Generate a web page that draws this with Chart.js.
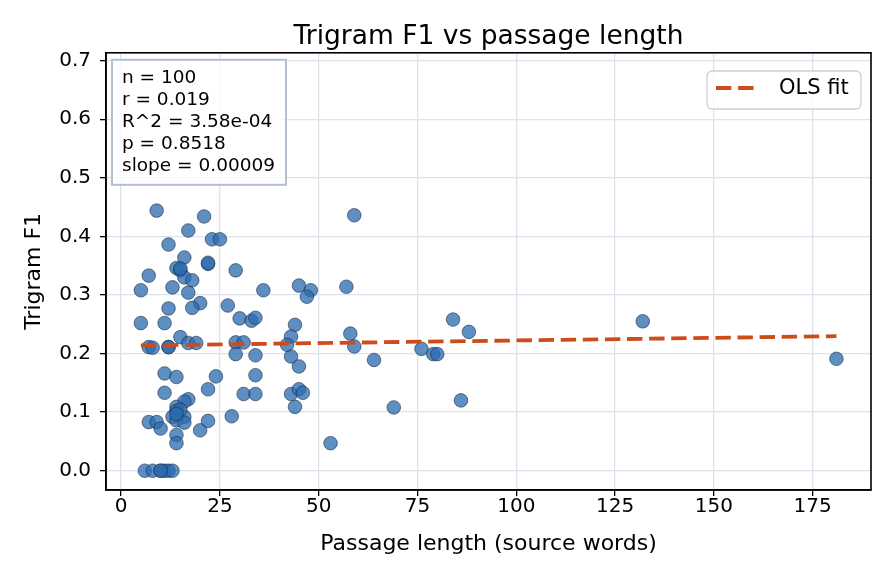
<!DOCTYPE html>
<html>
<head>
<meta charset="utf-8">
<script src="https://cdn.jsdelivr.net/npm/chart.js@4.4.1/dist/chart.umd.min.js"></script>
<style>
  html, body { margin: 0; padding: 0; background: #fff; }
  #wrap { width: 896px; height: 584px; }
</style>
</head>
<body>
<div id="wrap"><canvas id="scatterChart" width="896" height="584"></canvas></div>
<script>
const lengths = [9, 21, 59, 17, 12, 23, 25, 22, 22, 16, 14, 15, 7, 16, 18, 29, 13, 5, 17, 36,
  20, 12, 18, 27, 45, 48, 47, 57, 5, 11, 30, 33, 34, 44, 84, 88, 132, 58, 15, 7,
  8, 12, 17, 19, 29, 31, 43, 59, 76, 79, 80, 29, 34, 43, 64, 181, 45, 11, 14, 24,
  34, 11, 22, 31, 34, 43, 45, 46, 17, 16, 14, 14, 13, 16, 14, 16, 7, 9, 10, 20,
  22, 28, 14, 14, 53, 86, 69, 44, 6, 8, 10, 11, 12, 13, 15, 14, 10, 15, 12, 42];
const f1 = [0.444, 0.434, 0.436, 0.410, 0.386, 0.395, 0.395, 0.353, 0.355, 0.364, 0.346, 0.342, 0.333, 0.330, 0.325, 0.342, 0.313, 0.308, 0.304, 0.308,
  0.286, 0.277, 0.278, 0.282, 0.316, 0.308, 0.297, 0.314, 0.252, 0.252, 0.260, 0.256, 0.261, 0.249, 0.258, 0.237, 0.255, 0.234, 0.228, 0.211,
  0.210, 0.211, 0.218, 0.218, 0.219, 0.219, 0.229, 0.212, 0.208, 0.199, 0.199, 0.199, 0.197, 0.195, 0.189, 0.191, 0.178, 0.166, 0.160, 0.161,
  0.163, 0.133, 0.139, 0.131, 0.131, 0.131, 0.139, 0.133, 0.122, 0.118, 0.109, 0.102, 0.092, 0.092, 0.086, 0.082, 0.083, 0.083, 0.072, 0.069,
  0.085, 0.093, 0.061, 0.047, 0.047, 0.120, 0.108, 0.109, 0, 0, 0, 0, 0, 0, 0.104, 0.097, 0, 0.345, 0.211, 0.215];

// OLS fit endpoints
const fitX = [5, 181];
const fitY = [0.2138, 0.2296];

const xTicks = [0, 25, 50, 75, 100, 125, 150, 175];
const yTicks = [0.0, 0.1, 0.2, 0.3, 0.4, 0.5, 0.6, 0.7];
const statLines = ['n = 100', 'r = 0.019', 'R^2 = 3.58e-04', 'p = 0.8518', 'slope = 0.00009'];

const FONT = "'DejaVu Sans', 'Liberation Sans', sans-serif";
const GRID = '#dde3ec';

const framePlugin = {
  id: 'frame',
  afterDraw(chart) {
    const { ctx, chartArea: a } = chart;
    ctx.save();
    ctx.strokeStyle = '#000';
    ctx.lineWidth = 1.6;
    ctx.strokeRect(a.left, a.top, a.right - a.left, a.bottom - a.top);

    // stats box, top left
    const bx = a.left + 6, by = a.top + 7, bw = 174, bh = 125;
    ctx.fillStyle = 'rgba(255,255,255,0.85)';
    ctx.fillRect(bx, by, bw, bh);
    ctx.strokeStyle = '#b4c0d0';
    ctx.lineWidth = 2;
    ctx.strokeRect(bx, by, bw, bh);
    ctx.fillStyle = '#000';
    ctx.font = '18.5px ' + FONT;
    ctx.textBaseline = 'middle';
    ctx.textAlign = 'left';
    statLines.forEach((t, i) => ctx.fillText(t, bx + 10, by + 18 + i * 22));

    // legend, top right
    const ds = chart.data.datasets[0];
    const lx = 707, ly = 71, lw = 154, lh = 38, r = 5;
    ctx.beginPath();
    ctx.moveTo(lx + r, ly);
    ctx.arcTo(lx + lw, ly, lx + lw, ly + lh, r);
    ctx.arcTo(lx + lw, ly + lh, lx, ly + lh, r);
    ctx.arcTo(lx, ly + lh, lx, ly, r);
    ctx.arcTo(lx, ly, lx + lw, ly, r);
    ctx.closePath();
    ctx.fillStyle = 'rgba(255,255,255,0.85)';
    ctx.fill();
    ctx.strokeStyle = '#d0d0d0';
    ctx.lineWidth = 1.3;
    ctx.stroke();
    ctx.beginPath();
    ctx.setLineDash(ds.borderDash);
    ctx.strokeStyle = ds.borderColor;
    ctx.lineWidth = ds.borderWidth;
    ctx.moveTo(lx + 9, ly + 17);
    ctx.lineTo(lx + 48, ly + 17);
    ctx.stroke();
    ctx.setLineDash([]);
    ctx.fillStyle = '#000';
    ctx.font = '21px ' + FONT;
    ctx.fillText(ds.label, lx + 72, ly + 18);
    ctx.restore();
  }
};

new Chart(document.getElementById('scatterChart'), {
  type: 'scatter',
  data: {
    datasets: [
      {
        type: 'line',
        label: 'OLS fit',
        data: fitX.map((x, i) => ({ x, y: fitY[i] })),
        borderColor: '#cc4c1c',
        borderWidth: 3.8,
        borderDash: [15.4, 6.7],
        pointRadius: 0,
        fill: false,
        order: 0
      },
      {
        label: 'passages',
        data: lengths.map((x, i) => ({ x, y: f1[i] })),
        backgroundColor: 'rgba(44,108,176,0.76)',
        borderColor: 'rgba(25,35,55,0.8)',
        borderWidth: 0.7,
        pointRadius: 6.8,
        pointHoverRadius: 6.8,
        order: 1
      }
    ]
  },
  plugins: [framePlugin],
  options: {
    responsive: false,
    animation: false,
    devicePixelRatio: 1,
    layout: { padding: { left: 0, right: 25, top: 0, bottom: 0 } },
    plugins: {
      legend: { display: false },
      tooltip: { enabled: false },
      title: {
        display: true,
        fullSize: false,
        text: 'Trigram F1 vs passage length',
        color: '#000',
        font: { family: FONT, size: 26.5, weight: 'normal', lineHeight: 1.2 },
        padding: { top: 21, bottom: 0 }
      }
    },
    scales: {
      x: {
        type: 'linear',
        min: -3.82,
        max: 189.75,
        afterFit: s => { s.height = 94; },
        afterBuildTicks: s => { s.ticks = xTicks.map(v => ({ value: v })); },
        grid: { color: GRID, lineWidth: 1.3, tickColor: '#000', tickLength: 6, tickWidth: 1.3 },
        border: { display: true, color: '#000', width: 1.6 },
        ticks: {
          color: '#000', padding: 1, maxRotation: 0,
          font: { family: FONT, size: 20, lineHeight: 1 },
          callback: v => String(v)
        },
        title: {
          display: true,
          text: 'Passage length (source words)',
          color: '#000',
          font: { family: FONT, size: 22, lineHeight: 1.2 },
          padding: { top: 0, bottom: 27 }
        }
      },
      y: {
        type: 'linear',
        min: -0.0329,
        max: 0.7133,
        afterFit: s => { s.width = 106; },
        afterBuildTicks: s => { s.ticks = yTicks.map(v => ({ value: v })); },
        grid: { color: GRID, lineWidth: 1.3, tickColor: '#000', tickLength: 6, tickWidth: 1.3 },
        border: { display: true, color: '#000', width: 1.6 },
        ticks: {
          color: '#000', padding: 9,
          font: { family: FONT, size: 20, lineHeight: 1 },
          callback: v => v.toFixed(1)
        },
        title: {
          display: true,
          text: 'Trigram F1',
          color: '#000',
          font: { family: FONT, size: 22, lineHeight: 1.2 },
          padding: { top: 21, bottom: 0 }
        }
      }
    }
  }
});
</script>
</body>
</html>
